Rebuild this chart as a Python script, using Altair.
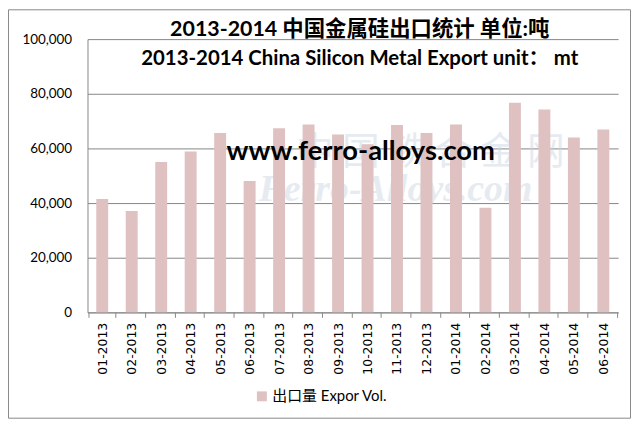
import altair as alt
import pandas as pd

months = ["01-2013", "02-2013", "03-2013", "04-2013", "05-2013", "06-2013",
          "07-2013", "08-2013", "09-2013", "10-2013", "11-2013", "12-2013",
          "01-2014", "02-2014", "03-2014", "04-2014", "05-2014", "06-2014"]
values = [41500, 37100, 55000, 58900, 65600, 48100,
          67400, 68800, 65100, 61500, 68600, 65600,
          68800, 38300, 76700, 74200, 64000, 66900]
series_name = "出口量 Expor Vol."
y_ticks = [0, 20000, 40000, 60000, 80000, 100000]
title_cn = "2013-2014 中国金属硅出口统计 单位:吨"
title_en = "2013-2014 China Silicon Metal Export unit：  mt"
watermark = "www.ferro-alloys.com"
wm_cn = "中 国 铁 合 金 网"
wm_en = "Ferro-Alloys.com"

FONT = "Lato, 'Noto Sans CJK SC', sans-serif"
W, H = 534, 275

df = pd.DataFrame({"month": months, "value": values, "series": [series_name] * len(months)})

border = alt.Chart(pd.DataFrame({"a": [0]})).mark_rect(
    fill=None, stroke="#888888", strokeWidth=1, clip=False
).encode(x=alt.value(-79.5), x2=alt.value(546.5), y=alt.value(-29.5), y2=alt.value(381.5))

wm1 = alt.Chart(pd.DataFrame({"t": [wm_cn]})).mark_text(
    font="'Noto Sans CJK SC'", fontSize=38, color="#c9d5e2", opacity=0.45, align="center", baseline="alphabetic"
).encode(x=alt.value(345), y=alt.value(126), text="t:N")

wm2 = alt.Chart(pd.DataFrame({"t": [wm_en]})).mark_text(
    font="'Liberation Serif', serif", fontSize=38, fontStyle="italic", fontWeight="bold",
    color="#c9d5e2", opacity=0.45, align="center", baseline="alphabetic"
).encode(x=alt.value(310), y=alt.value(163), text="t:N")

bars = alt.Chart(df).mark_bar(size=12).encode(
    x=alt.X("month:N", sort=months, title=None,
            axis=alt.Axis(labelAngle=270, labelFont="'DejaVu Sans', sans-serif", labelFontSize=12.5,
                          labelColor="#000000", tickBand="extent", tickSize=5, tickColor="#888888",
                          domainColor="#888888", labelPadding=5, grid=False)),
    y=alt.Y("value:Q", title=None,
            scale=alt.Scale(domain=[0, 100000], nice=False),
            axis=alt.Axis(values=y_ticks, format=",d", labelFont=FONT, labelFontSize=13.5,
                          labelColor="#000000", ticks=False, labelPadding=16,
                          domainColor="#888888", gridColor="#868686", gridWidth=1)),
    color=alt.Color("series:N", title=None,
                    scale=alt.Scale(domain=[series_name], range=["#dfc1c1"]),
                    legend=alt.Legend(orient="none", legendX=168, legendY=352,
                                      symbolType="square", symbolSize=100, symbolStrokeWidth=0,
                                      labelFont=FONT, labelFontSize=15, labelColor="#000000",
                                      labelOffset=3, padding=0)),
)

title1 = alt.Chart(pd.DataFrame({"t": [title_cn]})).mark_text(
    font=FONT, fontSize=21.5, fontWeight="bold", color="#000000", align="center", baseline="alphabetic"
).encode(x=alt.value(274), y=alt.value(-3), text="t:N")

title2 = alt.Chart(pd.DataFrame({"t": [title_en]})).mark_text(
    font=FONT, fontSize=20.5, fontWeight="bold", color="#000000", align="center", baseline="alphabetic"
).encode(x=alt.value(274), y=alt.value(26), text="t:N")

www = alt.Chart(pd.DataFrame({"t": [watermark]})).mark_text(
    font=FONT, fontSize=27.5, fontWeight="bold", color="#000000", align="center", baseline="alphabetic"
).encode(x=alt.value(275), y=alt.value(122), text="t:N")

chart = alt.layer(border, wm1, wm2, bars, title1, title2, www).properties(
    width=W, height=H,
    padding={"left": 80, "top": 30, "right": 14, "bottom": 108},
    autosize=alt.AutoSizeParams(type="none"),
    background="#ffffff",
).configure_view(stroke=None)

chart.save("out.html", embed_options={"renderer": "svg", "actions": False})
